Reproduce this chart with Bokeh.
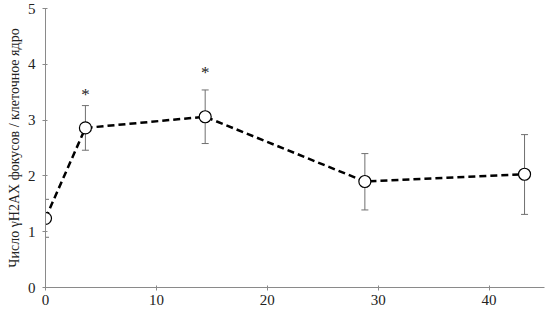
from bokeh.plotting import figure
from bokeh.models import Range1d, Whisker, TeeHead, ColumnDataSource, FixedTicker
from bokeh.core.properties import value
from bokeh.embed import file_html
from bokeh.resources import INLINE

# Data
hours = [0, 3.6, 14.4, 28.8, 43.2]
foci = [1.24, 2.86, 3.06, 1.90, 2.03]
err_low = [0.90, 2.46, 2.58, 1.39, 1.31]
err_high = [1.58, 3.26, 3.54, 2.40, 2.74]
star_x = [3.6, 14.4]
star_y = [3.46, 3.86]
star_text = ["*", "*"]
x_ticks = [0, 10, 20, 30, 40]
y_ticks = [0, 1, 2, 3, 4, 5]
y_title = "Число γH2AX фокусов / клеточное ядро"

FONT = "Liberation Serif"

p = figure(output_backend="svg", toolbar_location=None,
           x_range=Range1d(0, 45), y_range=Range1d(0, 5),
           frame_width=499, frame_height=279,
           min_border_left=45, min_border_right=8, min_border_top=8, min_border_bottom=20)
p.outline_line_color = None
p.xgrid.visible = False
p.ygrid.visible = False
p.background_fill_color = "white"
p.border_fill_color = "white"

for ax in (p.xaxis[0], p.yaxis[0]):
    ax.axis_line_color = "#8a8a8a"
    ax.major_tick_line_color = "#8a8a8a"
    ax.minor_tick_line_color = None
    ax.major_tick_in = 2
    ax.major_tick_out = 3
    ax.major_label_text_font = FONT
    ax.major_label_text_font_size = "15px"
    ax.major_label_text_color = "#222222"

p.xaxis[0].ticker = FixedTicker(ticks=x_ticks)
p.yaxis[0].ticker = FixedTicker(ticks=y_ticks)
p.xaxis[0].major_label_standoff = 4
p.yaxis[0].major_label_standoff = 7
p.yaxis[0].axis_label = y_title
p.yaxis[0].axis_label_text_font = FONT
p.yaxis[0].axis_label_text_font_style = "normal"
p.yaxis[0].axis_label_text_font_size = "14px"
p.yaxis[0].axis_label_text_color = "#222222"
p.yaxis[0].axis_label_standoff = 3

src = ColumnDataSource(dict(x=hours, y=foci, lo=err_low, hi=err_high))

w = Whisker(source=src, base="x", upper="hi", lower="lo", dimension="height",
            line_color="#707070", line_width=1,
            upper_head=TeeHead(size=7, line_color="#707070", line_width=1),
            lower_head=TeeHead(size=7, line_color="#707070", line_width=1))
p.add_layout(w)

p.line("x", "y", source=src, line_color="black", line_width=2.5, line_dash="7 4")
p.scatter("x", "y", source=src, size=12, marker="circle", fill_color="white",
          line_color="black", line_width=1.2)

p.text(x=star_x, y=star_y, text=star_text, text_font=value(FONT),
       text_font_size="17px", text_align="center", text_baseline="middle",
       text_color="#222222")

open("out.html", "w").write(file_html(p, INLINE))
